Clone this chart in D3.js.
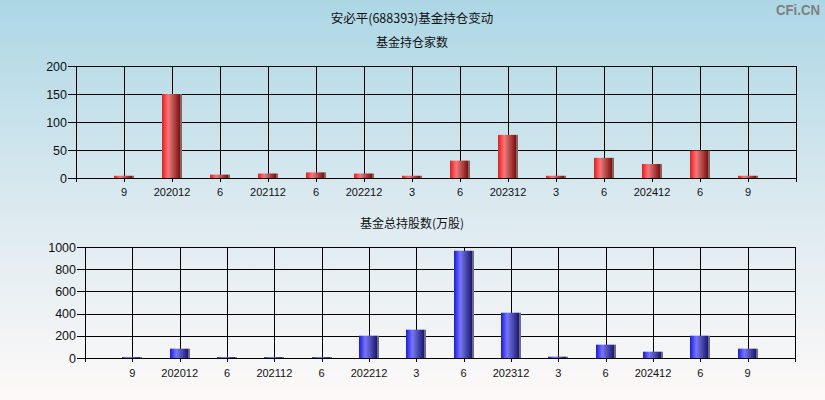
<!DOCTYPE html>
<html>
<head>
<meta charset="utf-8">
<script src="https://cdn.jsdelivr.net/npm/d3@7"></script>
<style>
html,body{margin:0;padding:0;}
svg{display:block;}
</style>
</head>
<body>
<script>
const categories = ["9","202012","6","202112","6","202212","3","6","202312","3","6","202412","6","9"];
const fundCount = [4,150,6,8,10,8,4,31,77,4,36,25,49,4];
const fundShares = [8,84,8,8,8,201,255,966,408,12,120,57,201,84];
const countTicks = [0,50,100,150,200];
const sharesTicks = [0,200,400,600,800,1000];

const W = 825, H = 400;
const FONT = "'Liberation Sans', Arial, 'Noto Sans CJK SC', sans-serif";
const CJK = "'Noto Sans CJK SC', 'Liberation Sans', sans-serif";

const svg = d3.select("body").append("svg").attr("width", W).attr("height", H);
const defs = svg.append("defs");

const bg = defs.append("linearGradient").attr("id","bg").attr("x1",0).attr("y1",0).attr("x2",0).attr("y2",1);
bg.append("stop").attr("offset","0%").attr("stop-color","#acd7e5");
bg.append("stop").attr("offset","50%").attr("stop-color","#dae9ef");
bg.append("stop").attr("offset","100%").attr("stop-color","#fdf9f8");
svg.append("rect").attr("width",W).attr("height",H).attr("fill","url(#bg)");

function barGrad(id, c0, c1, c2){
  const g = defs.append("linearGradient").attr("id",id).attr("x1",0).attr("y1",0).attr("x2",1).attr("y2",0);
  g.append("stop").attr("offset","0%").attr("stop-color",c0);
  g.append("stop").attr("offset","35%").attr("stop-color",c1);
  g.append("stop").attr("offset","100%").attr("stop-color",c2);
}
barGrad("redG","#ff1212","#ec7c7c","#7a1010");
barGrad("blueG","#1616ff","#7878ee","#18186e");

svg.append("text").attr("x",412).attr("y",23).attr("text-anchor","middle")
  .attr("font-family",CJK).attr("font-size",12.5).attr("fill","#111").text("安必平(688393)基金持仓变动");
svg.append("text").attr("x",776).attr("y",15)
  .attr("font-family","'Liberation Sans', Arial, sans-serif").attr("font-weight","bold")
  .attr("font-size",15).attr("fill","#808080").attr("textLength",44).attr("lengthAdjust","spacingAndGlyphs").text("CFi.CN");

function panel(opt){
  const {left,right,top,bottom,values,ticks,maxV,grad,title,titleY,labelY} = opt;
  const x = d3.scalePoint().domain(d3.range(categories.length)).range([left,right]).padding(1);
  const y = d3.scaleLinear().domain([0,maxV]).range([bottom,top]);
  const g = svg.append("g");

  g.append("text").attr("x",412).attr("y",titleY).attr("text-anchor","middle")
    .attr("font-family",CJK).attr("font-size",12).attr("fill","#111").text(title);

  g.selectAll(".hg").data(ticks).join("line")
    .attr("x1",left).attr("x2",right)
    .attr("y1",d=>Math.round(y(d))+0.5).attr("y2",d=>Math.round(y(d))+0.5)
    .attr("stroke","#000").attr("stroke-width",1);
  g.selectAll(".vg").data(d3.range(categories.length)).join("line")
    .attr("x1",d=>Math.round(x(d))+0.5).attr("x2",d=>Math.round(x(d))+0.5)
    .attr("y1",top).attr("y2",bottom+4)
    .attr("stroke","#000").attr("stroke-width",1);
  [left,right].forEach(xx=>{
    g.append("line").attr("x1",Math.round(xx)+0.5).attr("x2",Math.round(xx)+0.5)
      .attr("y1",top).attr("y2",bottom+4).attr("stroke","#000");
  });

  const bars = g.selectAll(".bar").data(values).join("g");
  bars.append("rect")
    .attr("x",(d,i)=>Math.round(x(i))-10+18).attr("width",2)
    .attr("y",d=>y(d)).attr("height",d=>y(0)-y(d)).attr("fill","#6e6e6e");
  bars.append("rect")
    .attr("x",(d,i)=>Math.round(x(i))-10).attr("width",18)
    .attr("y",d=>y(d)).attr("height",d=>y(0)-y(d)).attr("fill",`url(#${grad})`);

  g.append("line").attr("x1",left).attr("x2",right+1)
    .attr("y1",Math.round(y(0))+0.5).attr("y2",Math.round(y(0))+0.5).attr("stroke","#000");

  g.selectAll(".yt").data(ticks).join("line")
    .attr("x1",left-8).attr("x2",left)
    .attr("y1",d=>Math.round(y(d))+0.5).attr("y2",d=>Math.round(y(d))+0.5).attr("stroke","#000");
  g.selectAll(".yl").data(ticks).join("text")
    .attr("x",left-9).attr("y",d=>y(d)).attr("dy","0.36em").attr("text-anchor","end")
    .attr("font-family",FONT).attr("font-size",12.5).attr("fill","#111").text(d=>d);

  g.selectAll(".xl").data(categories).join("text")
    .attr("x",(d,i)=>x(i)).attr("y",labelY).attr("text-anchor","middle")
    .attr("font-family",FONT).attr("font-size",11).attr("fill","#111").text(d=>d);
}

panel({left:76,right:796,top:66,bottom:178,values:fundCount,ticks:countTicks,maxV:200,grad:"redG",
  title:"基金持仓家数",titleY:47,labelY:196});
panel({left:85,right:795,top:247,bottom:358,values:fundShares,ticks:sharesTicks,maxV:1000,grad:"blueG",
  title:"基金总持股数(万股)",titleY:228,labelY:377});
</script>
</body>
</html>
